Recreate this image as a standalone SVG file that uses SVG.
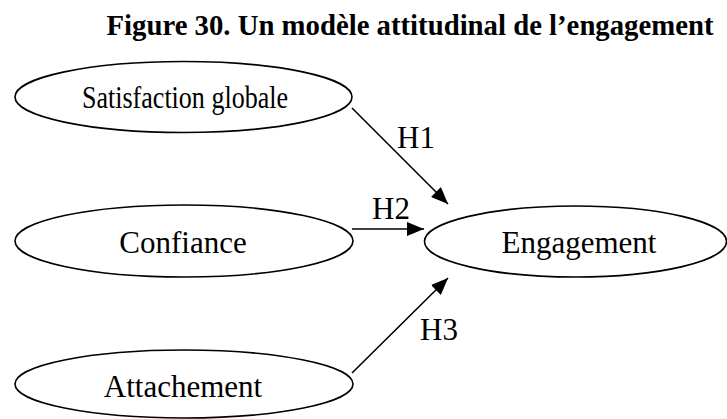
<svg xmlns="http://www.w3.org/2000/svg" width="727" height="419" viewBox="0 0 727 419">
<style>
.n{fill:#fff;stroke:#000;stroke-width:1.6}
.t{font-family:"Liberation Serif","Times New Roman",serif;font-size:31px;fill:#000}
.c{stroke:#000;stroke-width:1.6;fill:none}
</style>
<defs>
<marker id="ah" markerUnits="userSpaceOnUse" markerWidth="18" markerHeight="14" refX="17" refY="7" orient="auto">
<path d="M0,0 L17,7 L0,14 Z" fill="#000"/>
</marker>
</defs>
<rect width="727" height="419" fill="#fff"/>
<text x="410" y="35" text-anchor="middle" style="font-family:'Liberation Serif','Times New Roman',serif;font-size:29px;font-weight:bold" textLength="607" lengthAdjust="spacingAndGlyphs">Figure 30. Un modèle attitudinal de l’engagement</text>
<g id="satisfaction">
<ellipse class="n" cx="183.5" cy="97" rx="168.5" ry="35.5"/>
<text class="t" x="82" y="108" textLength="206" lengthAdjust="spacingAndGlyphs">Satisfaction globale</text>
</g>
<g id="confiance">
<ellipse class="n" cx="184" cy="241" rx="169" ry="36"/>
<text class="t" x="183" y="253" text-anchor="middle">Confiance</text>
</g>
<g id="attachement">
<ellipse class="n" cx="184" cy="384" rx="169" ry="34"/>
<text class="t" x="183" y="397" text-anchor="middle">Attachement</text>
</g>
<g id="engagement">
<ellipse class="n" cx="575.5" cy="241.5" rx="151" ry="35.5"/>
<text class="t" x="579" y="253" text-anchor="middle">Engagement</text>
</g>
<g id="connectors">
<line class="c" x1="352" y1="108" x2="448" y2="204" marker-end="url(#ah)"/>
<line class="c" x1="352" y1="229" x2="424" y2="229" marker-end="url(#ah)"/>
<line class="c" x1="352" y1="373" x2="448" y2="278" marker-end="url(#ah)"/>
<text class="t" x="397" y="148">H1</text>
<text class="t" x="372" y="219">H2</text>
<text class="t" x="420" y="340">H3</text>
</g>
</svg>
